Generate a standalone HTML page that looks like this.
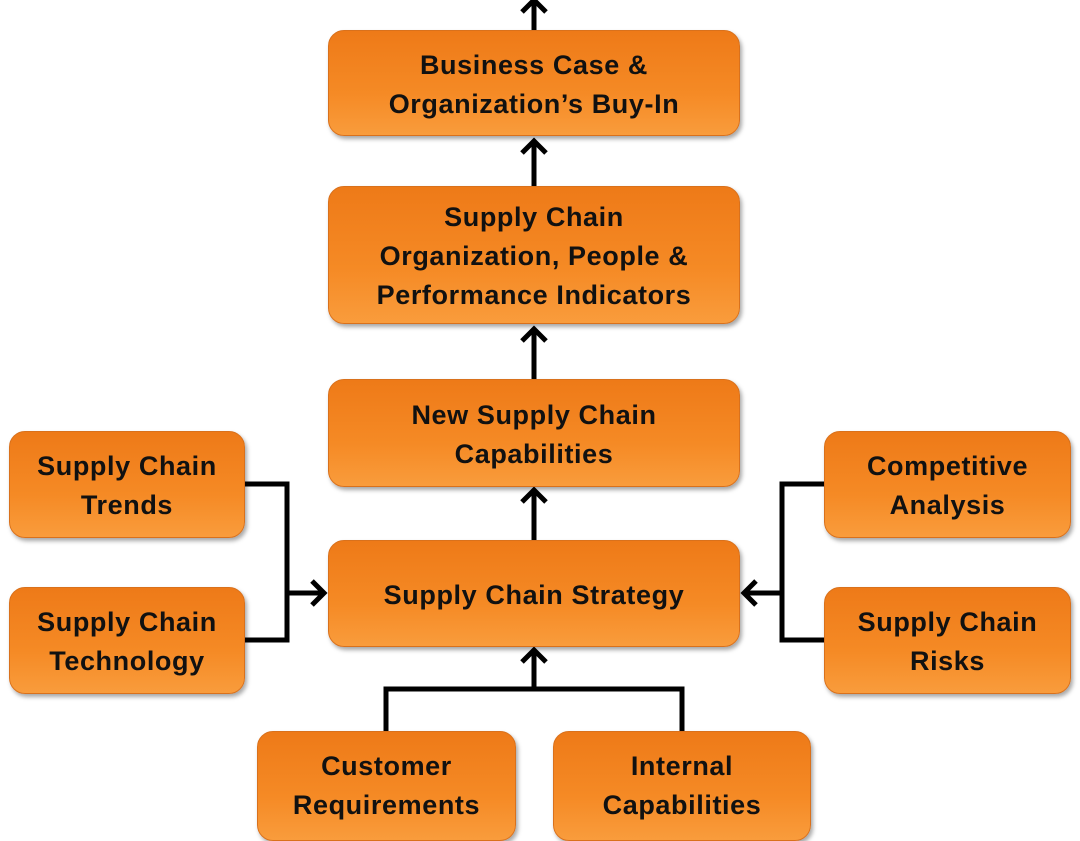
<!DOCTYPE html>
<html><head><style>
body{margin:0;width:1080px;height:800px;background:#fff;position:relative;overflow:hidden;font-family:"Liberation Sans",sans-serif}
.b{position:absolute;box-sizing:border-box;border-radius:16px;background:linear-gradient(#ee7a18,#f58a25 60%,#f99c3c);border:1px solid #d9711c;box-shadow:2px 3px 4px rgba(0,0,0,.35);display:flex;align-items:center;justify-content:center;text-align:center;font-weight:bold;font-size:27px;line-height:39px;color:#111;letter-spacing:0.6px;padding-top:3px}
svg{position:absolute;left:0;top:0}
</style></head><body>
<svg width="1080" height="800"><g stroke="#000" stroke-width="5" fill="none" stroke-linejoin="miter">
<line x1="534" y1="30" x2="534" y2="2"/><polyline points="522,12 534,0 546,12"/>
<line x1="534" y1="186" x2="534" y2="141"/><polyline points="522,153 534,141 546,153"/>
<line x1="534" y1="379" x2="534" y2="329"/><polyline points="522,341 534,329 546,341"/>
<line x1="534" y1="540" x2="534" y2="490"/><polyline points="522,502 534,490 546,502"/>
<polyline points="245,484 287,484 287,640 245,640"/><line x1="287" y1="593" x2="324" y2="593"/><polyline points="312,581 324,593 312,605"/>
<polyline points="824,484 782,484 782,640 824,640"/><line x1="782" y1="593" x2="744" y2="593"/><polyline points="756,581 744,593 756,605"/>
<polyline points="386,731 386,689 682,689 682,731"/><line x1="534" y1="689" x2="534" y2="650"/><polyline points="522,662 534,650 546,662"/>
</g></svg>
<div class="b" style="left:328px;top:30px;width:412px;height:106px">Business Case &amp;<br>Organization’s Buy-In</div>
<div class="b" style="left:328px;top:186px;width:412px;height:138px">Supply Chain<br>Organization, People &amp;<br>Performance Indicators</div>
<div class="b" style="left:328px;top:379px;width:412px;height:108px">New Supply Chain<br>Capabilities</div>
<div class="b" style="left:328px;top:540px;width:412px;height:107px">Supply Chain Strategy</div>
<div class="b" style="left:9px;top:431px;width:236px;height:107px">Supply Chain<br>Trends</div>
<div class="b" style="left:9px;top:587px;width:236px;height:107px">Supply Chain<br>Technology</div>
<div class="b" style="left:824px;top:431px;width:247px;height:107px">Competitive<br>Analysis</div>
<div class="b" style="left:824px;top:587px;width:247px;height:107px">Supply Chain<br>Risks</div>
<div class="b" style="left:257px;top:731px;width:259px;height:110px;align-items:flex-start;padding-top:15px">Customer<br>Requirements</div>
<div class="b" style="left:553px;top:731px;width:258px;height:110px;align-items:flex-start;padding-top:15px">Internal<br>Capabilities</div>
</body></html>
